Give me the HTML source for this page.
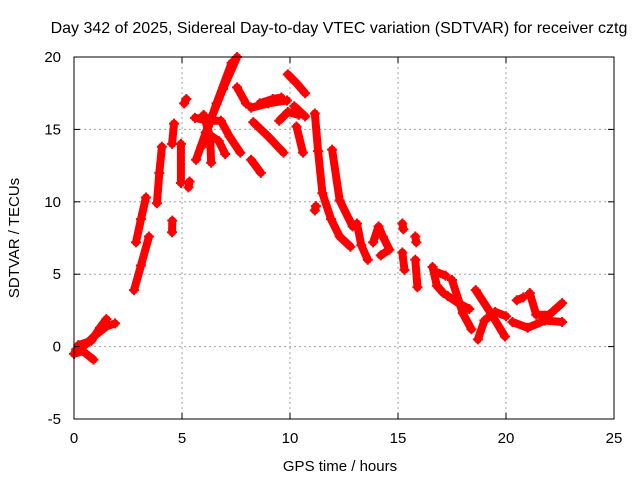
<!DOCTYPE html>
<html><head><meta charset="utf-8"><style>
body{margin:0;background:#fff}
svg text{font-family:"Liberation Sans",sans-serif;font-size:15px;fill:#000}
</style></head><body>
<svg id="chart" width="640" height="480" viewBox="0 0 640 480" xmlns="http://www.w3.org/2000/svg">
<rect width="640" height="480" fill="#fff"/>
<text x="339" y="33" text-anchor="middle" style="font-size:16px">Day 342 of 2025, Sidereal Day-to-day VTEC variation (SDTVAR) for receiver cztg</text>
<text x="340" y="471" text-anchor="middle">GPS time / hours</text>
<text transform="translate(19,238) rotate(-90)" text-anchor="middle">SDTVAR / TECUs</text>
<g id="grid"></g><g id="series"></g><g id="axes"></g>
</svg>
<script>
const xTicks=[0,5,10,15,20,25];
const yTicks=[-5,0,5,10,15,20];
const tracks=[
[[0,-0.5],[0.4,-0.3],[0.9,-0.9]],
[[0.1,-0.2],[0.5,0.1],[1,0.8],[1.5,1.4],[1.9,1.6]],
[[0.2,0.1],[0.8,0.4],[1.2,1.3],[1.5,1.9]],
[[2.78,3.9],[3.1,5.6],[3.47,7.6]],
[[2.87,7.2],[3.1,8.8],[3.33,10.3]],
[[3.84,9.9],[3.95,12],[4.07,13.8]],
[[4.54,14],[4.63,15.4]],
[[4.54,7.9],[4.55,8.7]],
[[4.95,11.3],[4.95,14]],
[[5.1,16.8],[5.2,17.1]],
[[5.3,11],[5.35,11.4]],
[[5.65,12.9],[6.2,15.2],[6.9,17.8],[7.55,20]],
[[5.9,13.8],[6.6,16.8],[7.3,19.6]],
[[5.6,15.8],[6.2,15.6],[6.8,15.6],[7.2,14.5],[7.7,13.4]],
[[6.35,12.7],[6.3,14.5],[6.0,16]],
[[6.1,14.8],[6.7,14.2],[7.0,13.3]],
[[7.55,17.9],[7.96,16.8]],
[[8.2,12.9],[8.65,12]],
[[8.2,16.5],[9.0,16.8],[9.86,17]],
[[8.3,15.5],[9.0,14.5],[9.7,13.4]],
[[8.6,16.8],[9.2,17.1],[9.6,17.2]],
[[9.5,15.6],[9.9,16.2],[10.4,16.0]],
[[9.9,18.8],[10.3,18.2],[10.7,17.5]],
[[10.2,16.6],[10.7,15.9]],
[[10.3,15.2],[10.6,13.4]],
[[11.15,16.1],[11.3,13.5],[11.5,10.6],[11.9,8.8],[12.3,7.6],[12.8,6.9]],
[[11.95,13.6],[12.3,10.1],[12.9,8.3]],
[[11.15,9.4],[11.2,9.7]],
[[13.1,8.5],[13.3,7.0],[13.6,6.0]],
[[13.85,7.2],[14.1,8.3],[14.3,7.6],[14.6,6.7],[14.2,6.3]],
[[15.2,8.5],[15.25,8.1]],
[[15.2,6.5],[15.3,5.3]],
[[15.8,7.6],[15.85,7.2]],
[[15.8,6.0],[15.9,4.1]],
[[16.6,5.5],[16.8,4.2],[17.1,3.7]],
[[16.7,5.2],[17.2,4.9]],
[[17.5,4.6],[18.0,2.3],[18.4,1.2]],
[[17.3,3.5],[17.8,3.0],[18.3,2.6]],
[[18.6,3.9],[19.3,2.3],[19.95,0.7]],
[[18.7,0.5],[19.0,1.8],[19.5,2.4],[20.0,2.1]],
[[20.3,1.7],[21.0,1.3],[21.8,1.8],[22.6,1.7]],
[[20.5,3.2],[20.8,3.4]],
[[21.1,3.7],[21.4,2.2],[22.0,2.2],[22.6,3.0]]
];
const X0=74,X1=614,Y0=419,Y1=57;
const xs=v=>X0+(v-0)/(25-0)*(X1-X0);
const ys=v=>Y0-(v+5)/(25)*(Y0-Y1);
const NS="http://www.w3.org/2000/svg";
function mk(t,a,p){const e=document.createElementNS(NS,t);for(const k in a)e.setAttribute(k,a[k]);p.appendChild(e);return e;}
const grid=document.getElementById('grid'),axes=document.getElementById('axes'),ser=document.getElementById('series');
xTicks.forEach(t=>{const x=xs(t);
 if(t>0&&t<25){const g=mk('line',{x1:x,x2:x,y1:Y1,y2:Y0,stroke:'#a0a0a0','stroke-dasharray':'2,3'},grid);
 
 }
 mk('line',{x1:x,x2:x,y1:Y0,y2:Y0-6,stroke:'#000'},axes);mk('line',{x1:x,x2:x,y1:Y1,y2:Y1+6,stroke:'#000'},axes);
 const l=mk('text',{x:x,y:Y0+24,'text-anchor':'middle'},axes);l.textContent=t;
 
 });
yTicks.forEach(t=>{const y=ys(t);
 if(t>-5&&t<20){const g=mk('line',{x1:X0,x2:X1,y1:y,y2:y,stroke:'#a0a0a0','stroke-dasharray':'2,3'},grid);
 
 }
 mk('line',{x1:X0,x2:X0+6,y1:y,y2:y,stroke:'#000'},axes);mk('line',{x1:X1,x2:X1-6,y1:y,y2:y,stroke:'#000'},axes);
 const l=mk('text',{x:X0-13,y:y+5,'text-anchor':'end'},axes);l.textContent=t;
 
 });
const fr=mk('rect',{x:X0,y:Y1,width:X1-X0,height:Y0-Y1,fill:'none',stroke:'#000'},axes);


tracks.forEach(tr=>{
 const pl=mk('polyline',{points:tr.map(p=>xs(p[0])+','+ys(p[1])).join(' '),fill:'none',stroke:'#ff0000','stroke-width':8,'stroke-linejoin':'round','stroke-linecap':'round'},ser);
 
 
 tr.forEach(p=>{const x=xs(p[0]),y=ys(p[1]);
  const m=mk('path',{d:`M${x-5},${y}H${x+5}M${x},${y-5}V${y+5}`,stroke:'#ff0000','stroke-width':2},ser);
  
  });
});
</script>
</body></html>
